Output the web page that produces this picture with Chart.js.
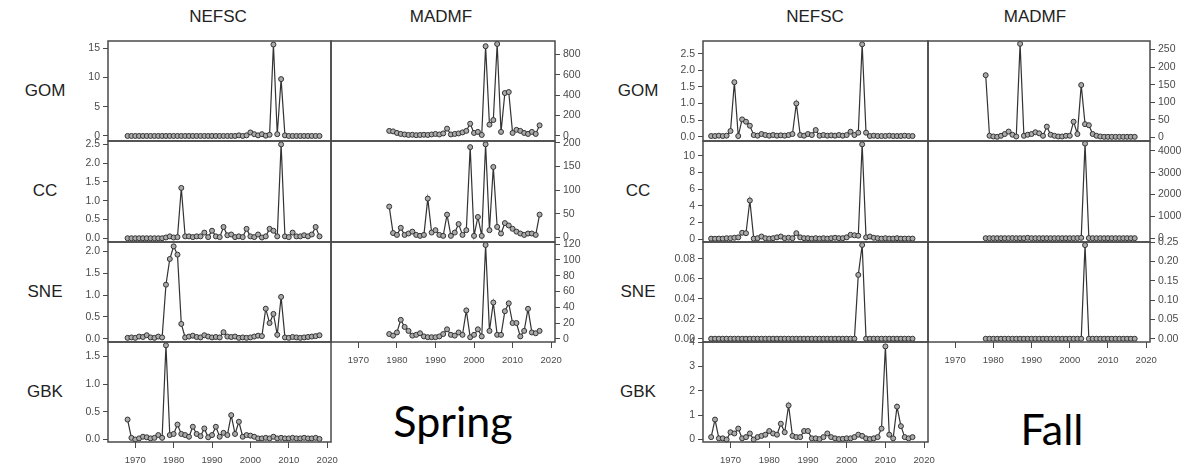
<!DOCTYPE html>
<html>
<head>
<meta charset="utf-8">
<script src="https://cdn.jsdelivr.net/npm/chart.js@4.4.1/dist/chart.umd.min.js"></script>
<style>
  body { margin: 0; background: #fff; width: 1193px; height: 472px; overflow: hidden; position: relative;
         font-family: "Liberation Sans", Arial, sans-serif; }
  canvas { position: absolute; }
  .t { position: absolute; transform: translate(-50%, -50%); font-size: 17px; color: #222; white-space: nowrap; }
  .season { position: absolute; transform: translate(-50%, -50%); font-family: Lato, "Open Sans", sans-serif;
            font-size: 43px; color: #000; white-space: nowrap; }
</style>
</head>
<body>
<div class="t" style="left:218px;top:17px">NEFSC</div>
<div class="t" style="left:441px;top:17px">MADMF</div>
<div class="t" style="left:815px;top:17px">NEFSC</div>
<div class="t" style="left:1035px;top:17px">MADMF</div>

<div class="t" style="left:45px;top:91px">GOM</div>
<div class="t" style="left:45px;top:191px">CC</div>
<div class="t" style="left:45px;top:292px">SNE</div>
<div class="t" style="left:45px;top:392px">GBK</div>
<div class="t" style="left:638px;top:91px">GOM</div>
<div class="t" style="left:638px;top:191px">CC</div>
<div class="t" style="left:638px;top:292px">SNE</div>
<div class="t" style="left:638px;top:392px">GBK</div>

<div class="season" style="left:453px;top:420px">Spring</div>
<div class="season" style="left:1052px;top:428px">Fall</div>

<script>
// ---- years ----
const springNefscYears = [1968,1969,1970,1971,1972,1973,1974,1975,1976,1977,1978,1979,1980,1981,1982,1983,1984,1985,1986,1987,
  1988,1989,1990,1991,1992,1993,1994,1995,1996,1997,1998,1999,2000,2001,2002,2003,2004,2005,2006,2007,2008,2009,2010,2011,
  2012,2013,2014,2015,2016,2017,2018];
const fallNefscYears = [1965,1966,1967,1968,1969,1970,1971,1972,1973,1974,1975,1976,1977,1978,1979,1980,1981,1982,1983,1984,
  1985,1986,1987,1988,1989,1990,1991,1992,1993,1994,1995,1996,1997,1998,1999,2000,2001,2002,2003,2004,2005,2006,2007,2008,
  2009,2010,2011,2012,2013,2014,2015,2016,2017];
const madmfYears = [1978,1979,1980,1981,1982,1983,1984,1985,1986,1987,1988,1989,1990,1991,1992,1993,1994,1995,1996,1997,
  1998,1999,2000,2001,2002,2003,2004,2005,2006,2007,2008,2009,2010,2011,2012,2013,2014,2015,2016,2017];

// ---- spring NEFSC ----
const springNefscGOM = [0,0,0,0,0,0,0,0,0,0,0,0,0,0,0,0,0,0,0,0,
  0,0,0,0,0,0,0,0,0,0.1,0,0.1,0.6,0.3,0.1,0.3,0.05,0.2,15.6,0.3,9.7,0.1,0,0,
  0,0,0,0,0,0,0];
const springNefscCC = [0,0,0,0,0,0,0,0,0,0,0.02,0.05,0.02,0.03,1.34,0.05,0.05,0.03,0.05,0.05,
  0.15,0.03,0.2,0.05,0.03,0.3,0.08,0.1,0.03,0.05,0.03,0.25,0.05,0.03,0.1,0.02,0.05,0.25,0.2,0.05,2.5,0.05,0.03,0.15,
  0.05,0.05,0.08,0.05,0.1,0.3,0.05];
const springNefscSNE = [0.02,0.03,0.02,0.05,0.04,0.08,0.03,0.02,0.05,0.03,1.24,1.83,2.12,1.93,0.34,0.03,0.05,0.07,0.04,0.03,
  0.08,0.05,0.03,0.04,0.03,0.15,0.05,0.04,0.05,0.02,0.03,0.02,0.03,0.05,0.07,0.06,0.69,0.36,0.57,0.09,0.96,0.03,0.02,0.04,
  0.03,0.02,0.03,0.04,0.05,0.06,0.08];
const springNefscGBK = [0.36,0.03,0,0.02,0.05,0.04,0.02,0.03,0.08,0.03,1.7,0.08,0.1,0.27,0.1,0.08,0.05,0.23,0.1,0.06,
  0.2,0.04,0.08,0.23,0.05,0.12,0.08,0.44,0.1,0.32,0.05,0.08,0.07,0.05,0.02,0.02,0.03,0.02,0.05,0.02,0.03,0.02,0.02,0.03,
  0.02,0.02,0.03,0.02,0.02,0.03,0.01];

// ---- spring MADMF ----
const springMadmfGOM = [50,45,30,20,15,10,12,8,10,12,10,15,20,15,25,72,15,20,25,35,
  50,120,30,40,10,878,111,156,900,40,420,430,30,60,50,30,20,40,20,104];
const springMadmfCC = [65,9,5,20,5,8,12,5,3,5,82,10,15,5,3,48,3,10,28,5,
  15,191,3,43,3,197,15,149,22,8,30,25,18,12,8,5,8,8,5,48];
const springMadmfSNE = [6,4,8,24,15,10,4,5,7,3,2,2,2,3,6,12,5,4,8,5,
  36,2,5,12,3,119,10,46,5,5,35,45,20,20,3,10,38,8,7,10];

// ---- fall NEFSC ----
const fallNefscGOM = [0.02,0.02,0.03,0.02,0.03,0.17,1.64,0.02,0.52,0.45,0.33,0.05,0.03,0.08,0.05,0.03,0.05,0.03,0.04,0.03,
  0.05,0.08,1.0,0.05,0.03,0.08,0.05,0.2,0.03,0.05,0.03,0.04,0.03,0.05,0.03,0.05,0.15,0.05,0.12,2.78,0.12,0.02,0.03,0.02,
  0.02,0.02,0.03,0.02,0.02,0.02,0.03,0.02,0.02];
const fallNefscCC = [0.05,0.03,0.05,0.05,0.1,0.1,0.15,0.2,0.75,0.7,4.64,0.05,0.1,0.3,0.1,0.05,0.1,0.2,0.3,0.1,
  0.15,0.1,0.7,0.2,0.1,0.1,0.05,0.1,0.05,0.1,0.05,0.1,0.15,0.1,0.1,0.2,0.5,0.45,0.4,11.4,0.2,0.3,0.15,0.1,
  0.05,0.1,0.05,0.05,0.1,0.05,0.05,0.05,0.05];
const fallNefscSNE = [0,0,0,0,0,0,0,0,0,0,0,0,0,0,0,0,0,0,0,0,
  0,0,0,0,0,0,0,0,0,0,0,0,0,0,0,0,0,0,0.064,0.094,0,0,0,0,
  0,0,0,0,0,0,0,0,0];
const fallNefscGBK = [0.1,0.82,0.05,0.05,0,0.3,0.25,0.45,0.05,0.1,0.25,0,0.1,0.15,0.2,0.35,0.25,0.2,0.65,0.3,
  1.4,0.15,0.1,0.1,0.35,0.35,0.05,0.05,0.02,0.1,0.25,0.1,0.05,0.02,0.03,0.05,0.05,0.1,0.2,0.15,0.05,0.02,0.05,0.1,
  0.45,3.82,0.2,0.05,1.35,0.55,0.1,0.05,0.1];

// ---- fall MADMF ----
const fallMadmfGOM = [177,5,3,2,5,10,17,8,3,266,5,8,10,15,12,5,31,8,5,3,
  3,5,5,45,10,149,38,35,10,5,3,2,2,2,2,2,2,2,2,2];
const fallMadmfCC = [5,5,5,5,5,5,5,10,5,5,5,20,5,5,5,5,5,5,5,5,
  5,5,5,5,10,20,4330,10,5,5,5,5,5,5,5,5,5,5,5,5];
const fallMadmfSNE = [0,0,0,0,0,0,0,0,0,0,0,0,0,0,0,0,0,0,0,0,
  0,0,0,0,0,0,0.242,0,0,0,0,0,0,0,0,0,0,0,0,0];

// ---- tick labels ----
const xTicks = [1970,1980,1990,2000,2010,2020];
const xTickLabels = ['1970','1980','1990','2000','2010','2020'];
const tSpGOM = [0,5,10,15],               lSpGOM = ['0','5','10','15'];
const tSpCC = [0,0.5,1,1.5,2,2.5],        lSpCC = ['0.0','0.5','1.0','1.5','2.0','2.5'];
const tSpSNE = [0,0.5,1,1.5,2],           lSpSNE = ['0.0','0.5','1.0','1.5','2.0'];
const tSpGBK = [0,0.5,1,1.5],             lSpGBK = ['0.0','0.5','1.0','1.5'];
const tSmGOM = [0,200,400,600,800],       lSmGOM = ['0','200','400','600','800'];
const tSmCC = [0,50,100,150,200],         lSmCC = ['0','50','100','150','200'];
const tSmSNE = [0,20,40,60,80,100,120],   lSmSNE = ['0','20','40','60','80','100','120'];
const tFaGOM = [0,0.5,1,1.5,2,2.5],       lFaGOM = ['0.0','0.5','1.0','1.5','2.0','2.5'];
const tFaCC = [0,2,4,6,8,10],             lFaCC = ['0','2','4','6','8','10'];
const tFaSNE = [0,0.02,0.04,0.06,0.08],   lFaSNE = ['0.00','0.02','0.04','0.06','0.08'];
const tFaGBK = [0,1,2,3,4],               lFaGBK = ['0','1','2','3','4'];
const tFmGOM = [0,50,100,150,200,250],    lFmGOM = ['0','50','100','150','200','250'];
const tFmCC = [0,1000,2000,3000,4000],    lFmCC = ['0','1000','2000','3000','4000'];
const tFmSNE = [0,0.05,0.1,0.15,0.2,0.25],lFmSNE = ['0.00','0.05','0.10','0.15','0.20','0.25'];

// layout of the plot boxes
const X_MIN = 1962.9, X_MAX = 2021.0;
const rowTop = [41, 141, 242, 342], rowBot = [141, 242, 342, 442];
const AXW = 45, PADV = 12, XAXH = 30;
const INK = '#4a4a4a';

const boxPlugin = {
  id: 'box',
  afterDraw(c) {
    const a = c.chartArea, g = c.ctx;
    g.save();
    g.strokeStyle = INK;
    g.lineWidth = 1.5;
    g.strokeRect(a.left, a.top, a.right - a.left, a.bottom - a.top);
    g.restore();
  }
};

function panel(left, right, row, side, years, vals, yMin, yMax, yTicks, yLabels, showX) {
  const top = rowTop[row], bot = rowBot[row];
  const padL = side === 'left' ? 0 : 6;
  const padR = side === 'left' ? 14 : 0;
  const w = (side === 'left' ? AXW + padL : padL) + (right - left) + (side === 'left' ? padR : AXW);
  const h = PADV + (bot - top) + (showX ? XAXH : PADV);
  const cv = document.createElement('canvas');
  cv.width = w; cv.height = h;
  cv.style.width = w + 'px'; cv.style.height = h + 'px';
  cv.style.left = (side === 'left' ? left - AXW : left - padL) + 'px';
  cv.style.top = (top - PADV) + 'px';
  document.body.appendChild(cv);

  new Chart(cv, {
    type: 'line',
    data: {
      datasets: [{
        data: years.map((yr, i) => ({ x: yr, y: vals[i] })),
        borderColor: '#333',
        borderWidth: 1.2,
        pointRadius: 2.5,
        pointBackgroundColor: '#aaa',
        pointBorderColor: '#333',
        pointBorderWidth: 1,
        tension: 0,
        clip: 6
      }]
    },
    options: {
      responsive: false,
      animation: false,
      devicePixelRatio: 1,
      layout: { padding: { left: padL, right: padR, top: PADV, bottom: showX ? 0 : PADV } },
      plugins: { legend: { display: false }, tooltip: { enabled: false } },
      scales: {
        x: {
          type: 'linear', min: X_MIN, max: X_MAX, display: showX,
          afterBuildTicks: s => { s.ticks = xTicks.map(v => ({ value: v })); },
          afterFit: s => { s.height = showX ? XAXH : 0; },
          ticks: { callback: (v, i) => xTickLabels[i], color: INK, font: { size: 9.5 }, padding: 7,
                   maxRotation: 0, autoSkip: false },
          grid: { drawOnChartArea: false, drawTicks: true, tickLength: 6, color: INK },
          border: { display: false }
        },
        y: {
          type: 'linear', position: side, min: yMin, max: yMax,
          afterBuildTicks: s => { s.ticks = yTicks.map(v => ({ value: v })); },
          afterFit: s => { s.width = AXW; },
          ticks: { callback: (v, i) => yLabels[i], color: INK, font: { size: 10.5 }, padding: 3,
                   autoSkip: false },
          grid: { drawOnChartArea: false, drawTicks: true, tickLength: 5, color: INK },
          border: { display: false }
        }
      }
    },
    plugins: [boxPlugin]
  });
}

// Spring
panel(108, 331, 0, 'left', springNefscYears, springNefscGOM, -0.86, 16.2, tSpGOM, lSpGOM, false);
panel(108, 331, 1, 'left', springNefscYears, springNefscCC, -0.1, 2.59, tSpCC, lSpCC, false);
panel(108, 331, 2, 'left', springNefscYears, springNefscSNE, -0.075, 2.22, tSpSNE, lSpSNE, false);
panel(108, 331, 3, 'left', springNefscYears, springNefscGBK, -0.045, 1.76, tSpGBK, lSpGBK, true);
panel(331, 555, 0, 'right', madmfYears, springMadmfGOM, -49, 929, tSmGOM, lSmGOM, false);
panel(331, 555, 1, 'right', madmfYears, springMadmfCC, -10, 204, tSmCC, lSmCC, false);
panel(331, 555, 2, 'right', madmfYears, springMadmfSNE, -4.1, 122.8, tSmSNE, lSmSNE, true);
// Fall
panel(703, 928, 0, 'left', fallNefscYears, fallNefscGOM, -0.13, 2.88, tFaGOM, lFaGOM, false);
panel(703, 928, 1, 'left', fallNefscYears, fallNefscCC, -0.36, 11.8, tFaCC, lFaCC, false);
panel(703, 928, 2, 'left', fallNefscYears, fallNefscSNE, -0.0033, 0.097, tFaSNE, lFaSNE, false);
panel(703, 928, 3, 'left', fallNefscYears, fallNefscGBK, -0.1, 4.0, tFaGBK, lFaGBK, true);
panel(928, 1150, 0, 'right', madmfYears, fallMadmfGOM, -9.8, 274, tFmGOM, lFmGOM, false);
panel(928, 1150, 1, 'right', madmfYears, fallMadmfCC, -170, 4450, tFmCC, lFmCC, false);
panel(928, 1150, 2, 'right', madmfYears, fallMadmfSNE, -0.0084, 0.25, tFmSNE, lFmSNE, true);
</script>
</body>
</html>
